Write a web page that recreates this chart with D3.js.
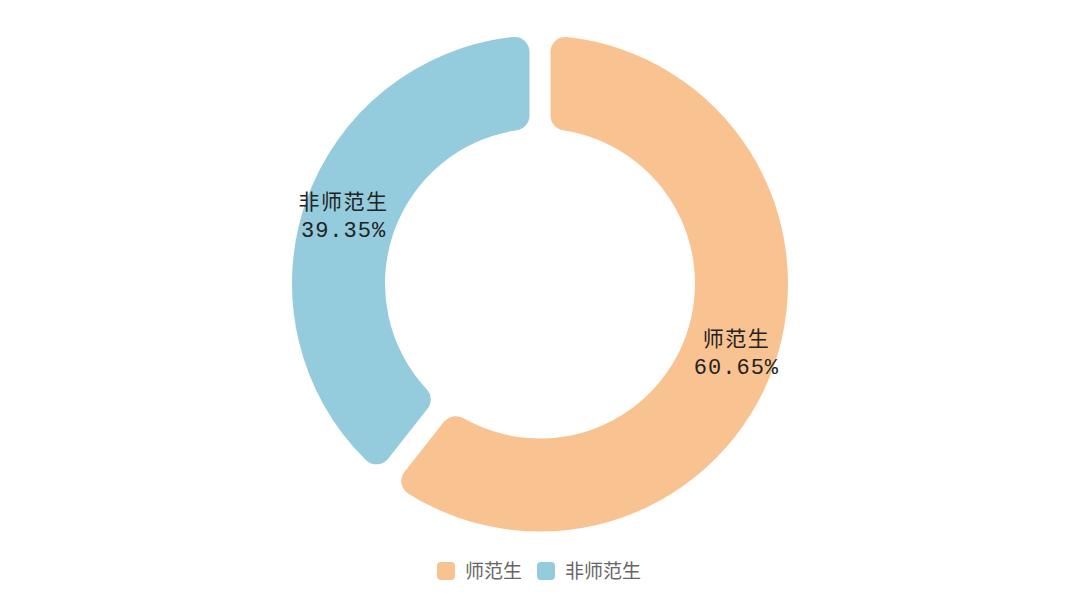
<!DOCTYPE html>
<html lang="zh">
<head>
  <meta charset="UTF-8">
  <title>师范生占比</title>
  <style>
    html, body { margin: 0; padding: 0; background: #fff; }
    svg { display: block; }
  </style>
</head>
<body>
  <div id="chart"></div>
  <script src="https://d3js.org/d3.v7.min.js"></script>
  <script>
    const width = 1080
    const height = 609

    // 数据
    const categories = ['师范生', '非师范生']
    const values = [60.65, 39.35]
    const colors = ['#F9C291', '#94CCDD']

    const cx = 540
    const cy = 283.5
    const outerR = 248
    const innerR = 155
    const labelR = 208

    const svg = d3.select('#chart').append('svg')
      .attr('width', width)
      .attr('height', height)

    const g = svg.append('g')
      .attr('transform', `translate(${cx}, ${cy})`)

    const pie = d3.pie().sort(null).value(d => d.value)
    const data = pie(categories.map((c, i) => ({ name: c, value: values[i] })))

    const arc = d3.arc()
      .innerRadius(innerR)
      .outerRadius(outerR)
      .padAngle(21 / outerR)
      .padRadius(outerR)
      .cornerRadius(15)

    g.selectAll('path')
      .data(data)
      .join('path')
      .attr('d', arc)
      .attr('fill', (d, i) => colors[i])

    // 扇区内标签
    const labelArc = d3.arc().innerRadius(labelR).outerRadius(labelR)
    const labels = g.selectAll('text.label')
      .data(data)
      .join('text')
      .attr('class', 'label')
      .attr('transform', d => `translate(${labelArc.centroid(d)})`)
      .attr('text-anchor', 'middle')
      .attr('fill', '#222')
      .style('font-family', '"Noto Sans CJK SC", serif')
      .style('font-size', '21px')

    labels.append('tspan')
      .attr('x', 0)
      .attr('y', -6)
      .style('letter-spacing', '1.5px')
      .text(d => d.data.name)
    labels.append('tspan')
      .attr('x', 0)
      .attr('y', 22)
      .style('font-family', '"Liberation Mono", monospace')
      .style('font-size', '22px')
      .style('letter-spacing', '1px')
      .text(d => d.data.value.toFixed(2) + '%')

    // 图例
    const legend = svg.append('g').attr('transform', 'translate(0, 571)')
    const legendX = [437, 537]
    categories.forEach((c, i) => {
      const item = legend.append('g').attr('transform', `translate(${legendX[i]}, 0)`)
      item.append('rect')
        .attr('x', 0).attr('y', -9)
        .attr('width', 18).attr('height', 18)
        .attr('rx', 4)
        .attr('fill', colors[i])
      item.append('text')
        .attr('x', 28).attr('y', 0)
        .attr('dy', '0.35em')
        .attr('fill', '#666')
        .style('font-family', '"Noto Sans CJK SC", sans-serif')
        .style('font-size', '19px')
        .text(c)
    })
  </script>
</body>
</html>
